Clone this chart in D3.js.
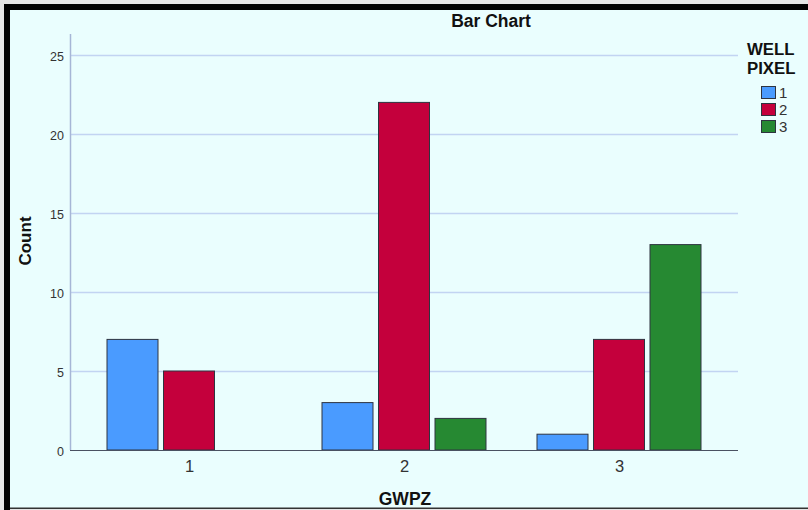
<!DOCTYPE html>
<html>
<head>
<meta charset="utf-8">
<script src="https://cdn.jsdelivr.net/npm/d3@7"></script>
<style>
html,body{margin:0;padding:0;background:#e4e4e4;}
svg{display:block;font-family:"Liberation Sans",Arial,sans-serif;}
</style>
</head>
<body>
<svg id="chart" width="808" height="510"></svg>
<script>
const categories = ["1", "2", "3"];
const seriesNames = ["1", "2", "3"];
const well1 = [7, 3, 1];
const well2 = [5, 22, 7];
const well3 = [0, 2, 13];
const yTicks = [0, 5, 10, 15, 20, 25];
const colors = ["#4a9bff", "#c4003c", "#268932"];
const seriesValues = [well1, well2, well3];

const svg = d3.select("#chart");
// background + frame
svg.append("rect").attr("x", 4).attr("y", 4).attr("width", 810).attr("height", 505).attr("fill", "#eafefe");
svg.append("rect").attr("x", 4).attr("y", 4).attr("width", 810).attr("height", 6).attr("fill", "#000");
svg.append("rect").attr("x", 4).attr("y", 4).attr("width", 6).attr("height", 506).attr("fill", "#000");
svg.append("rect").attr("x", 10).attr("y", 507.5).attr("width", 800).attr("height", 1.5).attr("fill", "#333");

const pLeft = 70, pRight = 738, pTop = 34, pBottom = 450;
const y = d3.scaleLinear().domain([0, 25]).range([pBottom, 55]);
const x = d3.scalePoint().domain(categories).range([pLeft, pRight]).padding(0.5535);
const sub = d3.scalePoint().domain(seriesNames).range([-56.5, 56.5]);
const barW = 51;

// gridlines
svg.append("g").selectAll("line").data(yTicks.filter(d => d > 0)).join("line")
  .attr("x1", pLeft).attr("x2", pRight)
  .attr("y1", d => y(d) + 0.5).attr("y2", d => y(d) + 0.5)
  .attr("stroke", "#c2d4f2").attr("stroke-width", 1.5);

// y axis line
svg.append("line").attr("x1", pLeft + 0.5).attr("x2", pLeft + 0.5).attr("y1", pTop).attr("y2", pBottom)
  .attr("stroke", "#a6b6d6").attr("stroke-width", 1.5);

// y tick labels
const yAxis = d3.axisLeft(y).tickValues(yTicks).tickSize(0).tickPadding(6);
const gy = svg.append("g").attr("transform", `translate(${pLeft},0)`).call(yAxis);
gy.select(".domain").remove();
gy.selectAll("text").attr("font-size", 12.5).attr("fill", "#333").attr("font-family", "Liberation Sans, Arial, sans-serif").attr("dy", "0.4em");

// bars
const rows = [];
categories.forEach((c, i) => seriesNames.forEach((s, j) => {
  const v = seriesValues[j][i];
  if (v > 0) rows.push({c, s, v, j});
}));
svg.append("g").selectAll("rect").data(rows).join("rect")
  .attr("x", d => x(d.c) + sub(d.s) - barW / 2)
  .attr("y", d => y(d.v))
  .attr("width", barW)
  .attr("height", d => y(0) - y(d.v))
  .attr("fill", d => colors[d.j])
  .attr("stroke", "#2e3440").attr("stroke-width", 1);

// x axis
const xAxis = d3.axisBottom(x).tickSize(0).tickPadding(10);
const gx = svg.append("g").attr("transform", `translate(0,${pBottom})`).call(xAxis);
gx.select(".domain").attr("stroke", "#4a5262").attr("stroke-width", 1.2).attr("d", `M${pLeft},0.5H${pRight}`);
gx.selectAll("text").attr("font-size", 16.5).attr("fill", "#333").attr("font-family", "Liberation Sans, Arial, sans-serif");

// titles
svg.append("text").attr("x", 491).attr("y", 27).attr("text-anchor", "middle")
  .attr("font-size", 17.5).attr("font-weight", "bold").attr("fill", "#111").text("Bar Chart");
svg.append("text").attr("x", 405).attr("y", 505).attr("text-anchor", "middle")
  .attr("font-size", 17.5).attr("font-weight", "bold").attr("fill", "#111").text("GWPZ");
svg.append("text").attr("transform", "translate(31,241) rotate(-90)").attr("text-anchor", "middle")
  .attr("font-size", 17).attr("font-weight", "bold").attr("fill", "#111").text("Count");

// legend
const lg = svg.append("g");
lg.append("text").attr("x", 747).attr("y", 55).attr("font-size", 16.8).attr("font-weight", "bold").attr("fill", "#111").text("WELL");
lg.append("text").attr("x", 747).attr("y", 74).attr("font-size", 16.8).attr("font-weight", "bold").attr("fill", "#111").text("PIXEL");
const items = lg.selectAll("g.item").data(seriesNames).join("g").attr("class", "item")
  .attr("transform", (d, i) => `translate(761,${86 + i * 17})`);
items.append("rect").attr("x", 0.5).attr("y", 0.5).attr("width", 14).attr("height", 12)
  .attr("fill", (d, i) => colors[i]).attr("stroke", "#2e3440").attr("stroke-width", 1);
items.append("text").attr("x", 18).attr("y", 12).attr("font-size", 15).attr("fill", "#333").text(d => d);
</script>
</body>
</html>
